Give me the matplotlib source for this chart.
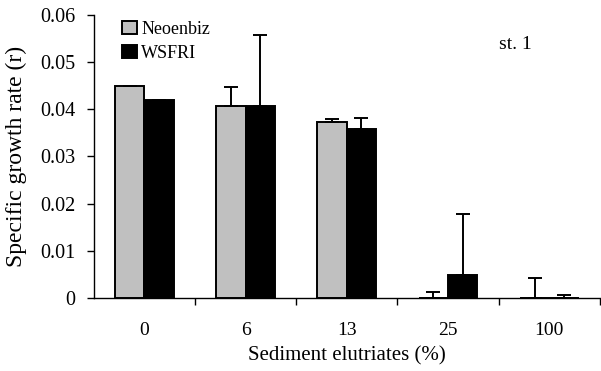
import numpy as np
import matplotlib.pyplot as plt
from matplotlib.ticker import FixedLocator, NullFormatter

plt.rcParams['font.family'] = ['Liberation Serif', 'DejaVu Serif']

categorias = ['0', '6', '13', '25', '100']
neoenbiz = [0.0450, 0.0407, 0.0373, 0.0, 0.0]
neoenbiz_err = [0.0, 0.0040, 0.0007, 0.0013, 0.0042]
wsfri = [0.0420, 0.0407, 0.0357, 0.0048, 0.0]
wsfri_err = [0.0, 0.0150, 0.0025, 0.0130, 0.0006]

x = np.arange(len(categorias))
w = 0.29

fig = plt.figure(figsize=(6.01, 3.71), dpi=100)
ax = fig.add_axes([0.156, 0.197, 0.842, 0.763])

ax.bar(x - w/2, neoenbiz, w, color='#c0c0c0', edgecolor='black', linewidth=1.4, label='Neoenbiz')
ax.bar(x + w/2, wsfri, w, color='black', edgecolor='black', linewidth=1.4, label='WSFRI')
ax.errorbar(x - w/2, neoenbiz, yerr=[np.zeros(5), neoenbiz_err], fmt='none',
            ecolor='black', elinewidth=1.4, capsize=5, capthick=1.4)
ax.errorbar(x + w/2, wsfri, yerr=[np.zeros(5), wsfri_err], fmt='none',
            ecolor='black', elinewidth=1.4, capsize=5, capthick=1.4)

ax.set_xlim(-0.5, 4.5)
ax.set_ylim(0, 0.06)
ax.set_yticks([0, 0.01, 0.02, 0.03, 0.04, 0.05, 0.06])
ax.set_yticklabels(['0', '0.01', '0.02', '0.03', '0.04', '0.05', '0.06'])
ax.set_xticks(x)
ax.set_xticklabels(categorias)
ax.tick_params(axis='x', which='major', length=0, pad=17, labelsize=14)
ax.xaxis.set_minor_locator(FixedLocator([0.5, 1.5, 2.5, 3.5, 4.5]))
ax.xaxis.set_minor_formatter(NullFormatter())
ax.tick_params(axis='x', which='minor', length=5, width=1)
ax.tick_params(axis='y', length=5, width=1, labelsize=14.5, pad=8)

for s in ['top', 'right']:
    ax.spines[s].set_visible(False)
ax.spines['left'].set_linewidth(1)
ax.spines['bottom'].set_linewidth(1)

ax.set_ylabel('Specific growth rate (r)', fontsize=17)
ax.yaxis.set_label_coords(-0.132, 0.5)
ax.set_xlabel('Sediment elutriates (%)', fontsize=15)
ax.xaxis.set_label_coords(0.5, -0.17)
ax.text(0.80, 0.894, 'st. 1', transform=ax.transAxes, fontsize=14, va='center')

ax.legend(loc='upper left', bbox_to_anchor=(0.055, 0.979), frameon=False, fontsize=13,
          borderpad=0, borderaxespad=0,
          handlelength=0.85, handleheight=0.7, handletextpad=0.25, labelspacing=0.4)

fig.savefig('out.png', dpi=100)
